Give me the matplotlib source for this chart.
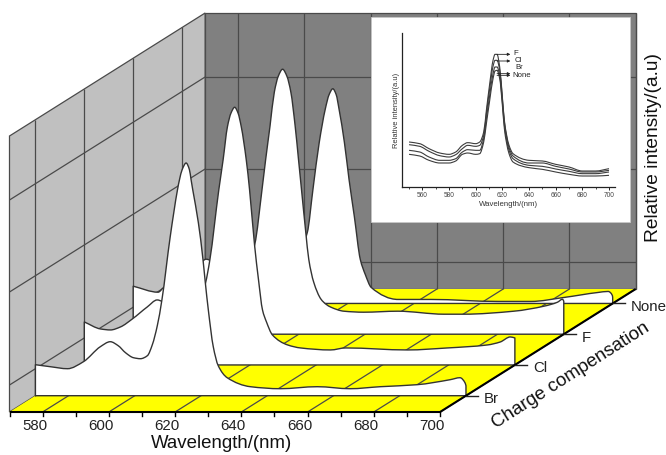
import numpy as np
import matplotlib
matplotlib.use("Agg")
import matplotlib.pyplot as plt
from matplotlib.path import Path
from matplotlib.patches import PathPatch, Polygon

plt.rcParams['font.family'] = ['Liberation Sans', 'DejaVu Sans']

# ---------- data: main waterfall ----------
series_names = ['Br', 'Cl', 'F', 'None']
br_w = [570,574.5,579.7,584.5,589.6,592.6,595,597.2,599.6,601.7,603.8,605.3,606.8,608.2,610.7,612.9,613.5,614.3,615.5,616.5,617,617.5,619.2,620.6,621.3,622.2,623.7,625.2,627.9,634.9,643.9,655.1,665,674.1,685.2,695.2,698.2,699.7,700]
br_i = [31,29,27,34,49,54,50,43,38,37,40,51,70,96,159,206,216,226,232.7,226,216,206,173,136,113,86,49,30,18,9,7,9,7,9,11,16,18,13,10]
cl_w = [570,574.9,577.9,580.9,584.5,589,592,595,598,601.7,604,606.6,607.9,610.6,611.9,613.2,614.3,615.4,616.4,617.4,618.9,619.9,621.4,622.6,623.8,625,626.8,631.4,635.3,644.3,648.9,667.6,679.6,691.7,695.6,698.6,700]
cl_i = [43,36,35,38,46,58,65,60,50,45,55,82,105,175,205,238,252,257.7,252,238,205,175,120,85,55,43,30,20,17,15,17,15,17,20,23,28,27]
f_w = [570,577.5,579.3,585,589,592,595,598,601.7,604,606.7,608.9,610,611.3,612.6,613.8,615.1,616.4,617.6,618.9,619.9,620.8,622.1,623,624.5,626.7,628.2,629.7,633.6,639.6,649.9,663.8,669.8,684.9,694,698.1,699.6,700]
f_i = [48,42,47,55,65,75,70,60,55,65,90,145,175,208,242,258,265,258,242,208,175,145,102,75,52,35,30,27,23,22,23,20,20,23,28,32,35,33]
none_w = [570,580,592,601,605,607.8,609.5,611.4,613.2,614.4,615.5,616.5,617.4,619,620.4,622,623.8,625.3,627.1,635.2,645.2,665.4,675.3,685.3,695.6,698.6,699.9,700]
none_i = [30,22,45,35,50,71,114,161,194,209,214.7,209,194,161,124,87,44,29,16,4,4,2,2,6,11,12,8,6]

# ---------- data: inset ----------
inset_w = [550,558,565,573,580,585,590,594,600,603,606,608,610.5,613,614.5,616,618,620,621.5,623,625,628,640,650,660,670,680,690,700]
inset_f = [135,130,115,102,98,105,125,133,130,135,165,230,310,380,398,398,360,270,200,160,125,100,80,78,68,60,48,48,55]
inset_cl = [127,122,107,94,90,97,115,125,122,125,155,220,295,362,380,380,350,265,195,155,118,93,72,72,62,54,45,45,50]
inset_br = [110,105,90,80,80,85,105,112,110,110,145,205,275,340,360,360,335,255,185,145,110,85,65,62,54,47,40,40,45]
inset_none = [98,93,80,72,72,78,98,102,98,100,135,190,260,325,348,350,325,245,175,135,100,75,58,53,45,38,33,33,35]

xticks_major = [580,600,620,640,660,680,700]
xticks_minor = [570,590,610,630,650,670,690]
z_grid = [27,120,212]
z_top = 276
w_lo, w_hi = 570, 700
d_lo, d_hi = 0.47, 4.47

# ---------- projection of (wavelength, depth, intensity) to the page ----------
def px(w, d):
    return 9.5 + (np.asarray(w, float) - w_lo) * 3.312 + (np.asarray(d, float) - d_lo) * 48.9
def py(d, z):
    return 412 - (np.asarray(d, float) - d_lo) * 30.75 - np.asarray(z, float)

def tangents(x, y):
    x, y = np.asarray(x, float), np.asarray(y, float)
    h = np.diff(x); s = np.diff(y) / h
    m = np.zeros_like(y); m[0], m[-1] = s[0], s[-1]
    for i in range(1, len(x) - 1):
        if s[i-1] * s[i] > 0:
            a = 2*h[i] + h[i-1]; b = h[i] + 2*h[i-1]
            m[i] = (a + b) / (a / s[i-1] + b / s[i])
    return m

def bezier(w, v):
    """control points of a smooth curve through the points (w, v)"""
    m = tangents(w, v)
    pts, codes = [], []
    for j in range(len(w)-1):
        dw = (w[j+1]-w[j])/3
        pts += [(w[j]+dw, v[j]+m[j]*dw), (w[j+1]-dw, v[j+1]-m[j+1]*dw), (w[j+1], v[j+1])]
        codes += [Path.CURVE4]*3
    return pts, codes

GRID = '#4a4a4a'
fig = plt.figure(figsize=(6.66, 4.55), dpi=100, facecolor='white')
ax = fig.add_axes([0, 0, 1, 1])
ax.set_xlim(0, 666); ax.set_ylim(455, 0); ax.axis('off')

def face(pts, color, z):
    ax.add_patch(Polygon(pts, closed=True, fc=color, ec=GRID, lw=0.9, zorder=z))

# walls and floor
face([(px(w_lo,d_hi),py(d_hi,0)),(px(w_hi,d_hi),py(d_hi,0)),(px(w_hi,d_hi),py(d_hi,z_top)),(px(w_lo,d_hi),py(d_hi,z_top))],'#808080',1)
face([(px(w_lo,d_lo),py(d_lo,0)),(px(w_lo,d_hi),py(d_hi,0)),(px(w_lo,d_hi),py(d_hi,z_top)),(px(w_lo,d_lo),py(d_lo,z_top))],'#c0c0c0',1)
ax.add_patch(Polygon([(px(w_lo,d_lo),py(d_lo,0)),(px(w_hi,d_lo),py(d_lo,0)),(px(w_hi,d_hi),py(d_hi,0)),(px(w_lo,d_hi),py(d_hi,0))],closed=True,fc='#ffff00',ec='none',zorder=1))

def seg(w0,d0,z0,w1,d1,z1,lw=0.9,c=GRID,zo=2):
    ax.plot([px(w0,d0),px(w1,d1)],[py(d0,z0),py(d1,z1)],color=c,lw=lw,zorder=zo,solid_capstyle='butt')

for w in xticks_major:
    seg(w,d_hi,0,w,d_hi,z_top)
    seg(w,d_lo,0,w,d_hi,0)
for z in z_grid:
    seg(w_lo,d_hi,z,w_hi,d_hi,z)
    seg(w_lo,d_lo,z,w_lo,d_hi,z)
for d in range(1,5):
    seg(w_lo,d,0,w_lo,d,z_top)

# series, from back to front
rows = [(4,none_w,none_i),(3,f_w,f_i),(2,cl_w,cl_i),(1,br_w,br_i)]
for k,(d,w,i) in enumerate(rows):
    pts,cd = bezier(w,i)
    verts=[(px(w_lo,d),py(d,0)),(px(w[0],d),py(d,i[0]))]+[(px(a,d),py(d,b)) for a,b in pts]
    codes=[Path.MOVETO,Path.LINETO]+cd
    verts+=[(px(w_hi,d),py(d,0)),(px(w_lo,d),py(d,0))]
    codes+=[Path.LINETO,Path.CLOSEPOLY]
    ax.add_patch(PathPatch(Path(verts,codes),fc='white',ec='#333333',lw=1.0,zorder=3+k,joinstyle='round'))

# axes edges and ticks
seg(w_lo,d_lo,0,w_hi,d_lo,0,lw=1.5,c='black',zo=9)
seg(w_hi,d_lo,0,w_hi,d_hi,0,lw=1.5,c='black',zo=9)
for w in xticks_major+xticks_minor:
    ax.plot([px(w,d_lo)]*2,[py(d_lo,0),py(d_lo,0)+3.5],color='black',lw=1,zorder=9)
for w in xticks_major:
    ax.text(px(w,d_lo)-8,426,str(w),ha='center',va='center',fontsize=10.8,color='#222222')
ax.text(222,443,'Wavelength/(nm)',ha='center',va='center',fontsize=13.4,color='#111111')
for d,n in enumerate(series_names,1):
    x0,y0=px(w_hi,d),py(d,0)
    ax.plot([x0,x0+12],[y0,y0],color='#222222',lw=1,zorder=9)
    ax.text(x0+18,y0+3.5,n,ha='left',va='center',fontsize=10.8,color='#222222')
ax.text(571,376,'Charge compensation',rotation=32.5,rotation_mode='anchor',ha='center',va='center',fontsize=13.5,color='#111111')
ax.text(654,148,'Relative intensity/(a.u)',rotation=90,ha='center',va='center',fontsize=13.8,color='#111111')

# inset
W,H=666,455
ax.add_patch(Polygon([(371,17),(630,17),(630,222),(371,222)],closed=True,fc='white',ec='#c8c8c8',lw=0.6,zorder=20))
ins=fig.add_axes([402/W,1-187/H,213/W,154/H],zorder=30)
ins.patch.set_alpha(0)
ins.set_xlim(544.7,704.5); ins.set_ylim(0,462)
for name,vals in [('F',inset_f),('Cl',inset_cl),('Br',inset_br),('None',inset_none)]:
    pts,cd=bezier(inset_w,vals)
    ins.add_patch(PathPatch(Path([(inset_w[0],vals[0])]+pts,[Path.MOVETO]+cd),fc='none',ec='#3c3c3c',lw=0.8))
ins.spines['top'].set_visible(False); ins.spines['right'].set_visible(False)
for s in ('left','bottom'):
    ins.spines[s].set_linewidth(0.9); ins.spines[s].set_color('#222222')
ins.set_yticks([])
ins.set_xticks([560,580,600,620,640,660,680,700])
ins.set_xticks([550,570,590,610,630,650,670,690],minor=True)
ins.tick_params(axis='x',which='major',length=2,width=0.6,labelsize=4.7,pad=1.5,labelcolor='#444444')
ins.tick_params(axis='x',which='minor',length=1.2,width=0.5)
ins.set_xlabel('Wavelength/(nm)',fontsize=5.6,labelpad=1.5,color='#333333')
ins.set_ylabel('Relative intensity/(a.u)',fontsize=5.4,labelpad=1.5,color='#333333')
for label,y_arrow,y_text,x_text in [('F',398,400,628),('Cl',378,378,629.5),('Br',340,358,629.5),('None',335,335,627.5)]:
    ins.annotate('',xy=(626,y_arrow),xytext=(616,y_arrow),arrowprops=dict(arrowstyle='-|>',lw=0.6,color='#222222',mutation_scale=4,shrinkA=0,shrinkB=0))
    ins.text(x_text,y_text,label,fontsize=5.6,va='center',ha='left',color='#222222')

fig.savefig('out.png',dpi=100,facecolor='white')
